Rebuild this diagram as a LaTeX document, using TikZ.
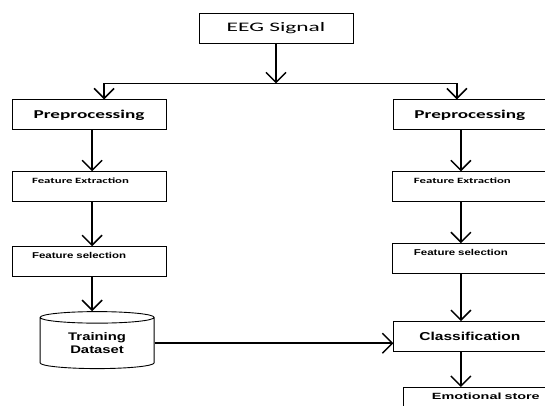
\documentclass[tikz,border=0pt]{standalone}
\usepackage{fontspec}
\setmainfont{Liberation Sans}
\newfontfamily\calfont[FakeStretch=1.8]{Carlito}
\newfontfamily\calbfont[FakeStretch=1.6]{Carlito}
\newfontfamily\arfont[FakeStretch=1.35]{Liberation Sans}
\newfontfamily\arwfont[FakeStretch=1.6]{Liberation Sans}
\usetikzlibrary{arrows.meta, positioning, shapes.geometric}

\begin{document}
\begin{tikzpicture}[x=1pt, y=1pt,
        box/.style={rectangle, draw=black, line width=0.9pt, minimum width=154pt, minimum height=30pt, inner sep=0pt, align=center},
        stepbox/.style={box, text width=114pt, inner xsep=20pt, inner ysep=4pt, align=left, text height=8pt, text depth=14pt},
        dbase/.style={cylinder, shape border rotate=90, draw=black, line width=0.9pt, aspect=0.2, minimum width=114pt, minimum height=57pt, inner sep=0pt, align=center},
        arrow/.style={-{Straight Barb[length=10pt, width=20pt]}, line width=1.5pt},
        line/.style={line width=1pt}
    ]
        \useasboundingbox (0,0) rectangle (545,405);
        \node[box, font=\calfont\fontsize{13}{15}\selectfont] (eeg) at (276,377) {EEG Signal};
        % left branch
        \node[box, font=\calbfont\bfseries\fontsize{12}{14}\selectfont, below left=56pt and 32pt of eeg] (pre1) {Preprocessing};
        \node[stepbox, font=\calbfont\bfseries\fontsize{8}{9}\selectfont, below=41pt of pre1] (fe1) {Feature Extraction};
        \node[stepbox, font=\arfont\bfseries\fontsize{8.5}{10}\selectfont, below=44pt of fe1] (fs1) {Feature selection};
        \node[dbase, font=\arfont\bfseries\fontsize{11}{13}\selectfont, below=34pt of fs1, xshift=8pt] (db) {Training\\Dataset};
        % right branch
        \node[box, minimum width=152pt, font=\calbfont\bfseries\fontsize{12}{14}\selectfont, below right=56pt and 40pt of eeg] (pre2) {Preprocessing};
        \node[stepbox, text width=112pt, font=\calbfont\bfseries\fontsize{8}{9}\selectfont, below=41pt of pre2] (fe2) {Feature Extraction};
        \node[stepbox, text width=112pt, font=\arfont\bfseries\fontsize{8.5}{10}\selectfont, below=41pt of fe2] (fs2) {Feature selection};
        \node[box, minimum width=152pt, font=\arfont\bfseries\fontsize{11.5}{13}\selectfont, below=47pt of fs2] (cls) {Classification};
        \node[stepbox, text width=130pt, inner xsep=28pt, font=\arwfont\bfseries\fontsize{9}{10}\selectfont, below right=35pt and 10pt of cls.south west] (emo) {Emotional store};
        % split
        \coordinate[below=40pt of eeg] (split);
        \path (split -| pre1.north) ++(15pt,0) coordinate (ljoin);
        \path (split -| pre2.north) ++(-13pt,0) coordinate (rjoin);
        \draw[arrow] (eeg) -- (split);
        \draw[line] (ljoin) -- (rjoin);
        \draw[arrow] (ljoin) -- (ljoin |- pre1.north);
        \draw[arrow] (rjoin) -- (rjoin |- pre2.north);
        % columns
        \path (pre1.south) ++(3pt,0) coordinate (lcol);
        \path (pre2.south) ++(-9pt,0) coordinate (rcol);
        \draw[arrow] (lcol) -- (lcol |- fe1.north);
        \draw[arrow] (lcol |- fe1.south) -- (lcol |- fs1.north);
        \draw[arrow] (lcol |- fs1.south) -- (lcol |- db.north);
        \draw[arrow] (rcol) -- (rcol |- fe2.north);
        \draw[arrow] (rcol |- fe2.south) -- (rcol |- fs2.north);
        \draw[arrow] (rcol |- fs2.south) -- (rcol |- cls.north);
        \draw[arrow] (rcol |- cls.south) -- (rcol |- emo.north);
        \draw[arrow] (db.east) -- (db.east -| cls.west);
    \end{tikzpicture}
\end{document}
